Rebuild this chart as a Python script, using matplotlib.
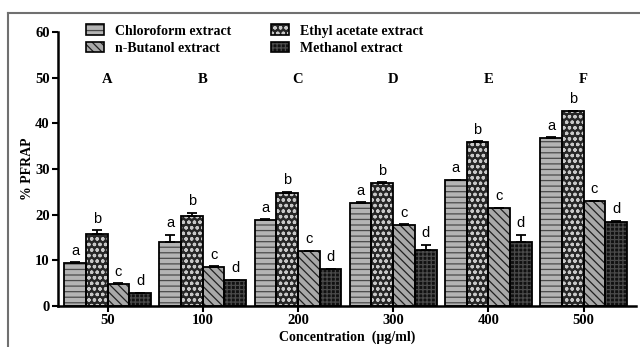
import numpy as np
import matplotlib.pyplot as plt
from matplotlib.lines import Line2D

# data
concentrations = ["50", "100", "200", "300", "400", "500"]
group_letters = ["A", "B", "C", "D", "E", "F"]
series_names = ["Chloroform extract", "Ethyl acetate extract",
                "n-Butanol extract", "Methanol extract"]
sig_letters = ["a", "b", "c", "d"]

chloroform = [9.4, 14.0, 18.8, 22.5, 27.5, 36.7]
chloroform_err = [0.2, 1.6, 0.2, 0.2, 0.2, 0.2]
ethyl_acetate = [15.8, 19.8, 24.8, 26.9, 35.9, 42.6]
ethyl_acetate_err = [0.8, 0.6, 0.2, 0.2, 0.2, 0.2]
butanol = [4.9, 8.5, 12.0, 17.8, 21.4, 23.0]
butanol_err = [0.1, 0.2, 0.1, 0.1, 0.1, 0.1]
methanol = [2.8, 5.6, 8.0, 12.2, 14.0, 18.5]
methanol_err = [0.1, 0.2, 0.2, 1.2, 1.6, 0.2]

values = [chloroform, ethyl_acetate, butanol, methanol]
errors = [chloroform_err, ethyl_acetate_err, butanol_err, methanol_err]

# (fill, hatch, hatch colour) per series
styles = [
    ("#b4b4b4", "---", "#4a4a4a"),
    ("#262626", "ooo", "#c8c8c8"),
    ("#a8a8a8", "\\\\\\\\", "#202020"),
    ("#111111", "++++", "#4a4a4a"),
]

plt.rcParams["hatch.linewidth"] = 0.9
serif = "Liberation Serif"

fig = plt.figure(figsize=(6.4, 3.47), dpi=100)
ax = fig.add_axes([58 / 640, 1 - 306 / 347, 578 / 640, 274 / 347])

x = np.arange(len(concentrations))
width = 0.228
offsets = np.array([-1.5, -0.5, 0.5, 1.5]) * width

handles = []
for i in range(4):
    fill, hatch, hcol = styles[i]
    pos = x + offsets[i]
    ax.bar(pos, values[i], width, color=fill, hatch=hatch,
           edgecolor=hcol, linewidth=0, zorder=2)
    ax.bar(pos, values[i], width, fill=False, edgecolor="black",
           linewidth=1.3, zorder=3)
    ax.errorbar(pos, values[i], yerr=[np.zeros(len(x)), errors[i]],
                fmt="none", ecolor="black", elinewidth=1.3, capsize=3.5,
                capthick=1.3, zorder=4)
    for xi, v, e in zip(pos, values[i], errors[i]):
        ax.text(xi, v + e + 1.0, sig_letters[i], ha="center", va="bottom",
                fontsize=10.5, family="Liberation Sans")
    h1 = plt.Rectangle((0, 0), 1, 1, facecolor=fill, hatch=hatch,
                       edgecolor=hcol, linewidth=0)
    h2 = plt.Rectangle((0, 0), 1, 1, fill=False, edgecolor="black",
                       linewidth=1.2)
    handles.append((h1, h2))

for xi, lab in zip(x, group_letters):
    ax.text(xi, 49.5, lab, ha="center", va="center", fontsize=10.5,
            fontweight="bold", family=serif)

ax.set_xlim(-0.52, 5.55)
ax.set_ylim(0, 60)
ax.set_xticks(x)
ax.set_xticklabels(concentrations)
ax.set_yticks(np.arange(0, 61, 10))
for lab in ax.get_xticklabels() + ax.get_yticklabels():
    lab.set_fontfamily(serif)
    lab.set_fontweight("bold")
    lab.set_fontsize(10.5)
ax.tick_params(direction="out", length=4, width=1.5, pad=2)

for s in ["top", "right"]:
    ax.spines[s].set_visible(False)
for s in ["left", "bottom"]:
    ax.spines[s].set_linewidth(1.8)

ax.set_ylabel("% PFRAP", fontsize=10, fontweight="bold", family=serif,
              labelpad=1)
ax.set_xlabel("Concentration  (\u00b5g/ml)", fontsize=10, fontweight="bold",
              family=serif, labelpad=2)

order = [0, 2, 1, 3]
ax.legend([handles[k] for k in order], [series_names[k] for k in order],
          ncol=2, loc="upper left", bbox_to_anchor=(0.026, 1.073),
          frameon=False, prop={"family": serif, "weight": "bold", "size": 10},
          handlelength=1.3, handleheight=0.8, handletextpad=0.8,
          columnspacing=2.9, labelspacing=0.3)

# grey frame of the original figure panel
fig.add_artist(Line2D([8 / 640, 8 / 640], [0, 1 - 13 / 347],
                      transform=fig.transFigure, color="#707070", lw=1.5))
fig.add_artist(Line2D([8 / 640, 1], [1 - 13 / 347, 1 - 13 / 347],
                      transform=fig.transFigure, color="#707070", lw=1.5))

fig.savefig("out.png", dpi=100)
